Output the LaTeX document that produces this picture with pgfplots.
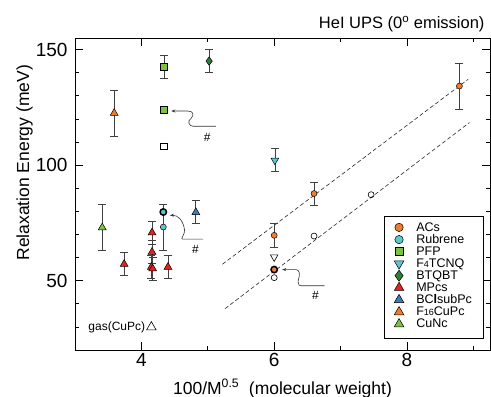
\documentclass[border=0pt]{standalone}
\usepackage{pgfplots}
\pgfplotsset{compat=1.18}
\usepackage{fontspec}
\setmainfont{Liberation Sans}
\usetikzlibrary{arrows.meta}
\definecolor{cOrange}{HTML}{F07D2C}
\definecolor{cCyan}{HTML}{5CC6CF}
\definecolor{cLgreen}{HTML}{7CC143}
\definecolor{cDgreen}{HTML}{2E7D3A}
\definecolor{cRed}{HTML}{E42320}
\definecolor{cBlue}{HTML}{3B7BC0}
\definecolor{cErr}{HTML}{404040}
\pgfplotsset{
  eb/.style={error bars/.cd, y dir=both, y explicit,
    error bar style={cErr, line width=0.7pt},
    error mark options={rotate=90, mark size=4pt, cErr, line width=0.7pt}},
}
\tikzset{annot/.style={line width=0.6pt, black!80, -{Stealth[length=4pt,width=3pt]}}}
\begin{document}
\begin{tikzpicture}
\begin{axis}[
  scale only axis, width=415pt, height=312pt,
  xmin=3, xmax=9.25, ymin=20, ymax=155,
  xtick={4,6,8}, minor xtick={3,5,7,9},
  ytick={50,100,150}, minor ytick={20,30,...,150},
  tick align=inside, major tick length=8pt, minor tick length=4pt,
  tick style={black, line width=0.6pt},
  axis line style={line width=0.8pt},
  ticklabel style={font=\fontsize{19}{19}\selectfont},
  yticklabel style={xshift=-4pt},
  /pgf/number format/assume math mode=true,
  xlabel={100/M\textsuperscript{0.5}\ \ (molecular weight)},
  ylabel={Relaxation Energy (meV)},
  label style={font=\fontsize{17.5}{18}\selectfont},
  xlabel style={at={(rel axis cs:0.5,-0.1234)}, anchor=center},
  ylabel style={at={(rel axis cs:-0.1217,0.6)}, anchor=center},
  legend style={at={(0.745,0.0375)}, anchor=south west, draw=black, line width=0.7pt,
    font=\fontsize{12.5}{12.5}\selectfont,
    nodes={font=\fontsize{12.5}{12.5}\selectfont, inner sep=1.5pt},
    row sep=-1.2pt, inner xsep=6pt, inner ysep=4pt,
    /tikz/every odd column/.append style={column sep=11pt},
    /tikz/every even column/.append style={text width=60pt},
    cells={anchor=west}},
  legend cell align=left,
  clip=false,
]
\coordinate (SW) at (rel axis cs:0,0);
\coordinate (NE) at (rel axis cs:1,1);
% legend images
\addlegendimage{only marks, mark=*, mark size=4.2pt, mark options={fill=cOrange, draw=black, line width=0.5pt}}
\addlegendentry{ACs}
\addlegendimage{only marks, mark=*, mark size=4.2pt, mark options={fill=cCyan, draw=black, line width=0.5pt}}
\addlegendentry{Rubrene}
\addlegendimage{only marks, mark=square*, mark size=4pt, mark options={fill=cLgreen, draw=black, line width=0.5pt}}
\addlegendentry{PFP}
\addlegendimage{only marks, mark=triangle*, mark size=5.5pt, mark options={rotate=180, fill=cCyan, draw=black, line width=0.5pt}}
\addlegendentry{F{\fontsize{9}{9}\selectfont 4}TCNQ}
\addlegendimage{only marks, mark=diamond*, mark size=5.5pt, mark options={fill=cDgreen, draw=black, line width=0.5pt}}
\addlegendentry{BTQBT}
\addlegendimage{only marks, mark=triangle*, mark size=5.5pt, mark options={fill=cRed, draw=black, line width=0.5pt}}
\addlegendentry{MPcs}
\addlegendimage{only marks, mark=triangle*, mark size=5.5pt, mark options={fill=cBlue, draw=black, line width=0.5pt}}
\addlegendentry{BC{\bfseries l}subPc}
\addlegendimage{only marks, mark=triangle*, mark size=5.5pt, mark options={fill=cOrange, draw=black, line width=0.5pt}}
\addlegendentry{F{\fontsize{9}{9}\selectfont 16}CuPc}
\addlegendimage{only marks, mark=triangle*, mark size=5.5pt, mark options={fill=cLgreen, draw=black, line width=0.5pt}}
\addlegendentry{CuNc}
\addlegendimage{empty legend}
\addlegendentry{}

% dashed guide lines
\addplot[forget plot, black!85, line width=0.6pt, dash pattern=on 4pt off 2.5pt] coordinates {(5.22,57.1) (8.92,137.1)};
\addplot[forget plot, black!85, line width=0.6pt, dash pattern=on 4pt off 2.5pt] coordinates {(5.26,37.9) (8.94,118.4)};

% open (reference) symbols
\addplot[forget plot, only marks, mark=o, mark size=3pt, mark options={black, fill=white, line width=0.6pt}] coordinates {(6,51.3) (6.6,69.3) (7.46,87.2)};
\addplot[forget plot, only marks, mark=square, mark size=3.3pt, mark options={black, fill=white, line width=0.6pt}] coordinates {(4.34,108.2)};
\addplot[forget plot, only marks, mark=triangle, mark size=4.3pt, mark options={rotate=180, black, line width=0.6pt}] coordinates {(6,60.2)};
\addplot[forget plot, only marks, mark=triangle, mark size=5.5pt, mark options={black, line width=0.6pt}] coordinates {(4.15,29.9)};

% ACs
\addplot[forget plot, only marks, mark=*, mark size=3pt, mark options={fill=cOrange, draw=black, line width=0.5pt}, eb] coordinates {
(6,69.6) +- (0,5)
(6.6,87.7) +- (0,5)
(8.79,134.2) +- (0,10)
};
\addplot[forget plot, only marks, mark=*, mark size=3.2pt, mark options={fill=cOrange, draw=black, line width=1.5pt}] coordinates {(6,54.8)};
% Rubrene
\addplot[forget plot, only marks, mark=*, mark size=3pt, mark options={fill=cCyan, draw=black, line width=0.5pt}, eb] coordinates {
(4.33,73.2) +- (0,10)
};
\addplot[forget plot, only marks, mark=*, mark size=3.2pt, mark options={fill=cCyan, draw=black, line width=1.5pt}] coordinates {(4.33,79.7)};
% PFP
\addplot[forget plot, only marks, mark=square*, mark size=3.3pt, mark options={fill=cLgreen, draw=black, line width=0.5pt}, eb] coordinates {
(4.34,142.6) +- (0,5)
};
\addplot[forget plot, only marks, mark=square*, mark size=3.5pt, mark options={fill=cLgreen, draw=black, line width=1.5pt}] coordinates {(4.34,123.8)};
% F4TCNQ
\addplot[forget plot, only marks, mark=triangle*, mark size=4.5pt, mark options={rotate=180, fill=cCyan, draw=black, line width=0.5pt}, eb] coordinates {
(6.01,102.1) +- (0,5)
};
% BTQBT
\addplot[forget plot, only marks, mark=diamond*, mark size=4.2pt, mark options={fill=cDgreen, draw=black, line width=0.5pt}, eb] coordinates {
(5.02,145) +- (0,5)
};
% MPcs
\addplot[forget plot, only marks, mark=triangle*, mark size=4.5pt, mark options={fill=cRed, draw=black, line width=0.5pt}, eb] coordinates {
(3.74,57.2) +- (0,5)
(4.16,70.8) +- (0,5)
(4.16,62.4) +- (0,5)
(4.15,55.9) +- (0,5)
(4.17,55.2) +- (0,5)
(4.40,55.9) +- (0,5)
};
% BClsubPc
\addplot[forget plot, only marks, mark=triangle*, mark size=4.5pt, mark options={fill=cBlue, draw=black, line width=0.5pt}, eb] coordinates {
(4.82,79.6) +- (0,5)
};
% F16CuPc
\addplot[forget plot, only marks, mark=triangle*, mark size=4.5pt, mark options={fill=cOrange, draw=black, line width=0.5pt}, eb] coordinates {
(3.59,122.5) +- (0,10)
};
% CuNc
\addplot[forget plot, only marks, mark=triangle*, mark size=4.5pt, mark options={fill=cLgreen, draw=black, line width=0.5pt}, eb] coordinates {
(3.41,73) +- (0,10)
};

% annotations
\draw[annot] (axis cs:5.12,116.8) -- (axis cs:4.78,116.8) .. controls (axis cs:4.72,116.8) and (axis cs:4.68,119) .. (axis cs:4.75,120.3) .. controls (axis cs:4.80,121.8) and (axis cs:4.78,123.4) .. (axis cs:4.70,123.4) -- (axis cs:4.45,123.4);
\node[font=\fontsize{12}{12}\selectfont] at (axis cs:4.99,112.2) {\#};
\draw[annot] (axis cs:4.93,68) -- (axis cs:4.62,68) .. controls (axis cs:4.58,68) and (axis cs:4.66,70) .. (axis cs:4.65,72) .. controls (axis cs:4.63,76) and (axis cs:4.55,78.5) .. (axis cs:4.43,78.2);
\node[font=\fontsize{12}{12}\selectfont] at (axis cs:4.815,63.4) {\#};
\draw[annot] (axis cs:6.76,47.8) -- (axis cs:6.40,47.8) .. controls (axis cs:6.36,47.8) and (axis cs:6.35,49.5) .. (axis cs:6.37,51) .. controls (axis cs:6.39,52.5) and (axis cs:6.38,54.8) .. (axis cs:6.33,54.8) -- (axis cs:6.12,54.8);
\node[font=\fontsize{12}{12}\selectfont] at (axis cs:6.62,43.6) {\#};
\node[font=\fontsize{12}{12}\selectfont, anchor=west] at (axis cs:3.15,29.9) {gas(CuPc)};
\node[font=\fontsize{16.5}{17}\selectfont, anchor=base east] at ([shift={(-2pt,9.3pt)}]rel axis cs:1,1) {HeI UPS (0\textsuperscript{o} emission)};
\end{axis}
\pgfresetboundingbox
\path[use as bounding box] ([shift={(-75pt,-47pt)}]SW) rectangle ([shift={(1pt,38pt)}]NE);
\end{tikzpicture}
\end{document}
